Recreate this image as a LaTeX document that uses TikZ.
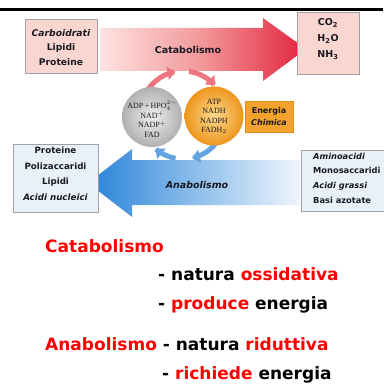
\documentclass[tikz,border=0pt]{standalone}
\usepackage{fontspec}
\setmainfont{DejaVu Sans}
\newfontfamily\serifc{Liberation Serif}
\usetikzlibrary{arrows.meta}
\definecolor{catL}{RGB}{252,228,225}
\definecolor{catM}{RGB}{242,150,152}
\definecolor{catR}{RGB}{225,35,60}
\definecolor{anaL}{RGB}{40,130,215}
\definecolor{anaM}{RGB}{140,190,235}
\definecolor{anaR}{RGB}{238,245,252}
\definecolor{pinkfill}{RGB}{249,214,208}
\definecolor{bluefill}{RGB}{232,240,250}
\definecolor{boxline}{RGB}{160,160,165}
\definecolor{orfill}{RGB}{242,163,45}
\definecolor{orline}{RGB}{225,140,30}
\definecolor{pinkarc}{RGB}{238,118,128}
\definecolor{bluearc}{RGB}{100,165,225}
\definecolor{inktxt}{RGB}{25,25,35}
\definecolor{bright}{RGB}{255,0,0}
\begin{document}
\begin{tikzpicture}[x=1pt,y=-1pt,
  box/.style={draw=boxline, line width=0.8pt, inner sep=0pt},
  pinkbox/.style={box, fill=pinkfill},
  bluebox/.style={box, fill=bluefill},
  smalltxt/.style={font=\fontsize{8.7}{15.5}\selectfont\bfseries, text=inktxt, align=center, inner sep=0pt},
  circtxt/.style={font=\serifc\fontsize{8}{9.3}\selectfont, text=inktxt, align=center, inner sep=0pt},
  cyc/.style={line width=5pt, -{Triangle[width=13pt,length=8pt]}},
  btxt/.style={font=\fontsize{17}{20}\selectfont\bfseries, inner sep=0pt, anchor=base west}
]
\useasboundingbox (0,0) rectangle (383,385);
\fill[white] (0,0) rectangle (383,385);
% top rule
\fill[black] (0,8) rectangle (383,11);

% big arrows
\path[left color=catL, right color=catR, middle color=catM]
  (100,28) -- (263,28) -- (263,18) -- (306,49) -- (263,81) -- (263,71) -- (100,71) -- cycle;
\path[left color=anaL, right color=anaR, middle color=anaM]
  (88,183) -- (132,149) -- (132,160) -- (300,160) -- (300,205) -- (132,205) -- (132,217) -- cycle;

% cycle arcs
\draw[cyc, pinkarc] plot[domain=150:100, samples=25, variable=\t] ({183+43*cos(\t)},{115-44*sin(\t)});
\draw[cyc, pinkarc] plot[domain=82:42, samples=25, variable=\t] ({183+43*cos(\t)},{115-44*sin(\t)});
\draw[cyc, bluearc] plot[domain=-25:-78, samples=25, variable=\t] ({183+43*cos(\t)},{115-44*sin(\t)});
\draw[cyc, bluearc] plot[domain=-100:-130, samples=25, variable=\t] ({183+43*cos(\t)},{115-44*sin(\t)});

% circles
\node[circle, minimum size=60pt, inner sep=0pt, inner color=gray!12, outer color=gray!62] (grayc) at (152,117) {};
\node[circle, minimum size=59pt, inner sep=0pt, inner color={rgb,255:red,253;green,218;blue,140}, outer color={rgb,255:red,238;green,150;blue,30}] (orc) at (214,116) {};
\node[circtxt] (graytxt) at (152,119) {ADP\,+\,HPO$^{2-}_4$\\NAD$^+$\\NADP$^+$\\FAD};
\node[circtxt] (ortxt) at (214,116.5) {ATP\\NADH\\NADPH\\FADH$_2$};

% energia chimica
\node[draw=orline, fill=orfill, line width=0.5pt, minimum width=48pt, minimum height=31pt, inner sep=0pt,
  font=\fontsize{8}{11.5}\selectfont\bfseries, text=inktxt, align=center] (ener) at (269,116.5) {Energia\\\textit{Chimica}};

% boxes
\node[pinkbox, minimum width=72pt, minimum height=54pt] (src) at (61,46) {};
\node[smalltxt, font=\fontsize{9.2}{14.5}\selectfont\bfseries] (srctxt) at (61,47.5) {\textit{Carboidrati}\\Lipidi\\Proteine};
\node[pinkbox, minimum width=62pt, minimum height=62pt] (prod) at (328,43) {};
\node[smalltxt, font=\fontsize{9.5}{16}\selectfont\bfseries] (prodtxt) at (328,39) {CO\textsubscript{2}\\H\textsubscript{2}O\\NH\textsubscript{3}};
\node[bluebox, minimum width=85pt, minimum height=68pt] (polym) at (55.5,178) {};
\node[smalltxt] (polymtxt) at (55.5,174) {Proteine\\Polizaccaridi\\Lipidi\\\textit{Acidi nucleici}};
\node[bluebox, minimum width=91pt, minimum height=61pt] (monom) at (346.5,180.5) {};
\node[smalltxt, align=left, anchor=west, font=\fontsize{8.3}{14.7}\selectfont\bfseries] (monomtxt) at (313,178) {\textit{Aminoacidi}\\Monosaccaridi\\\textit{Acidi grassi}\\Basi azotate};

% arrow labels
\node[font=\fontsize{9.5}{10}\selectfont\bfseries, text=inktxt, inner sep=0pt] (catlab) at (188,50) {Catabolismo};
\node[font=\fontsize{9.5}{10}\selectfont\bfseries\itshape, text=inktxt, inner sep=0pt] (analab) at (197,185) {Anabolismo};

% bottom text
\node[btxt] (l1) at (45,252) {\textcolor{bright}{Catabolismo}};
\node[btxt] (l2) at (158,280) {- natura \textcolor{bright}{ossidativa}};
\node[btxt] (l3) at (158,309) {- \textcolor{bright}{produce} energia};
\node[btxt] (l4) at (45,350) {\textcolor{bright}{Anabolismo} - natura \textcolor{bright}{riduttiva}};
\node[btxt] (l5) at (162,379) {- \textcolor{bright}{richiede} energia};
\end{tikzpicture}
\end{document}
